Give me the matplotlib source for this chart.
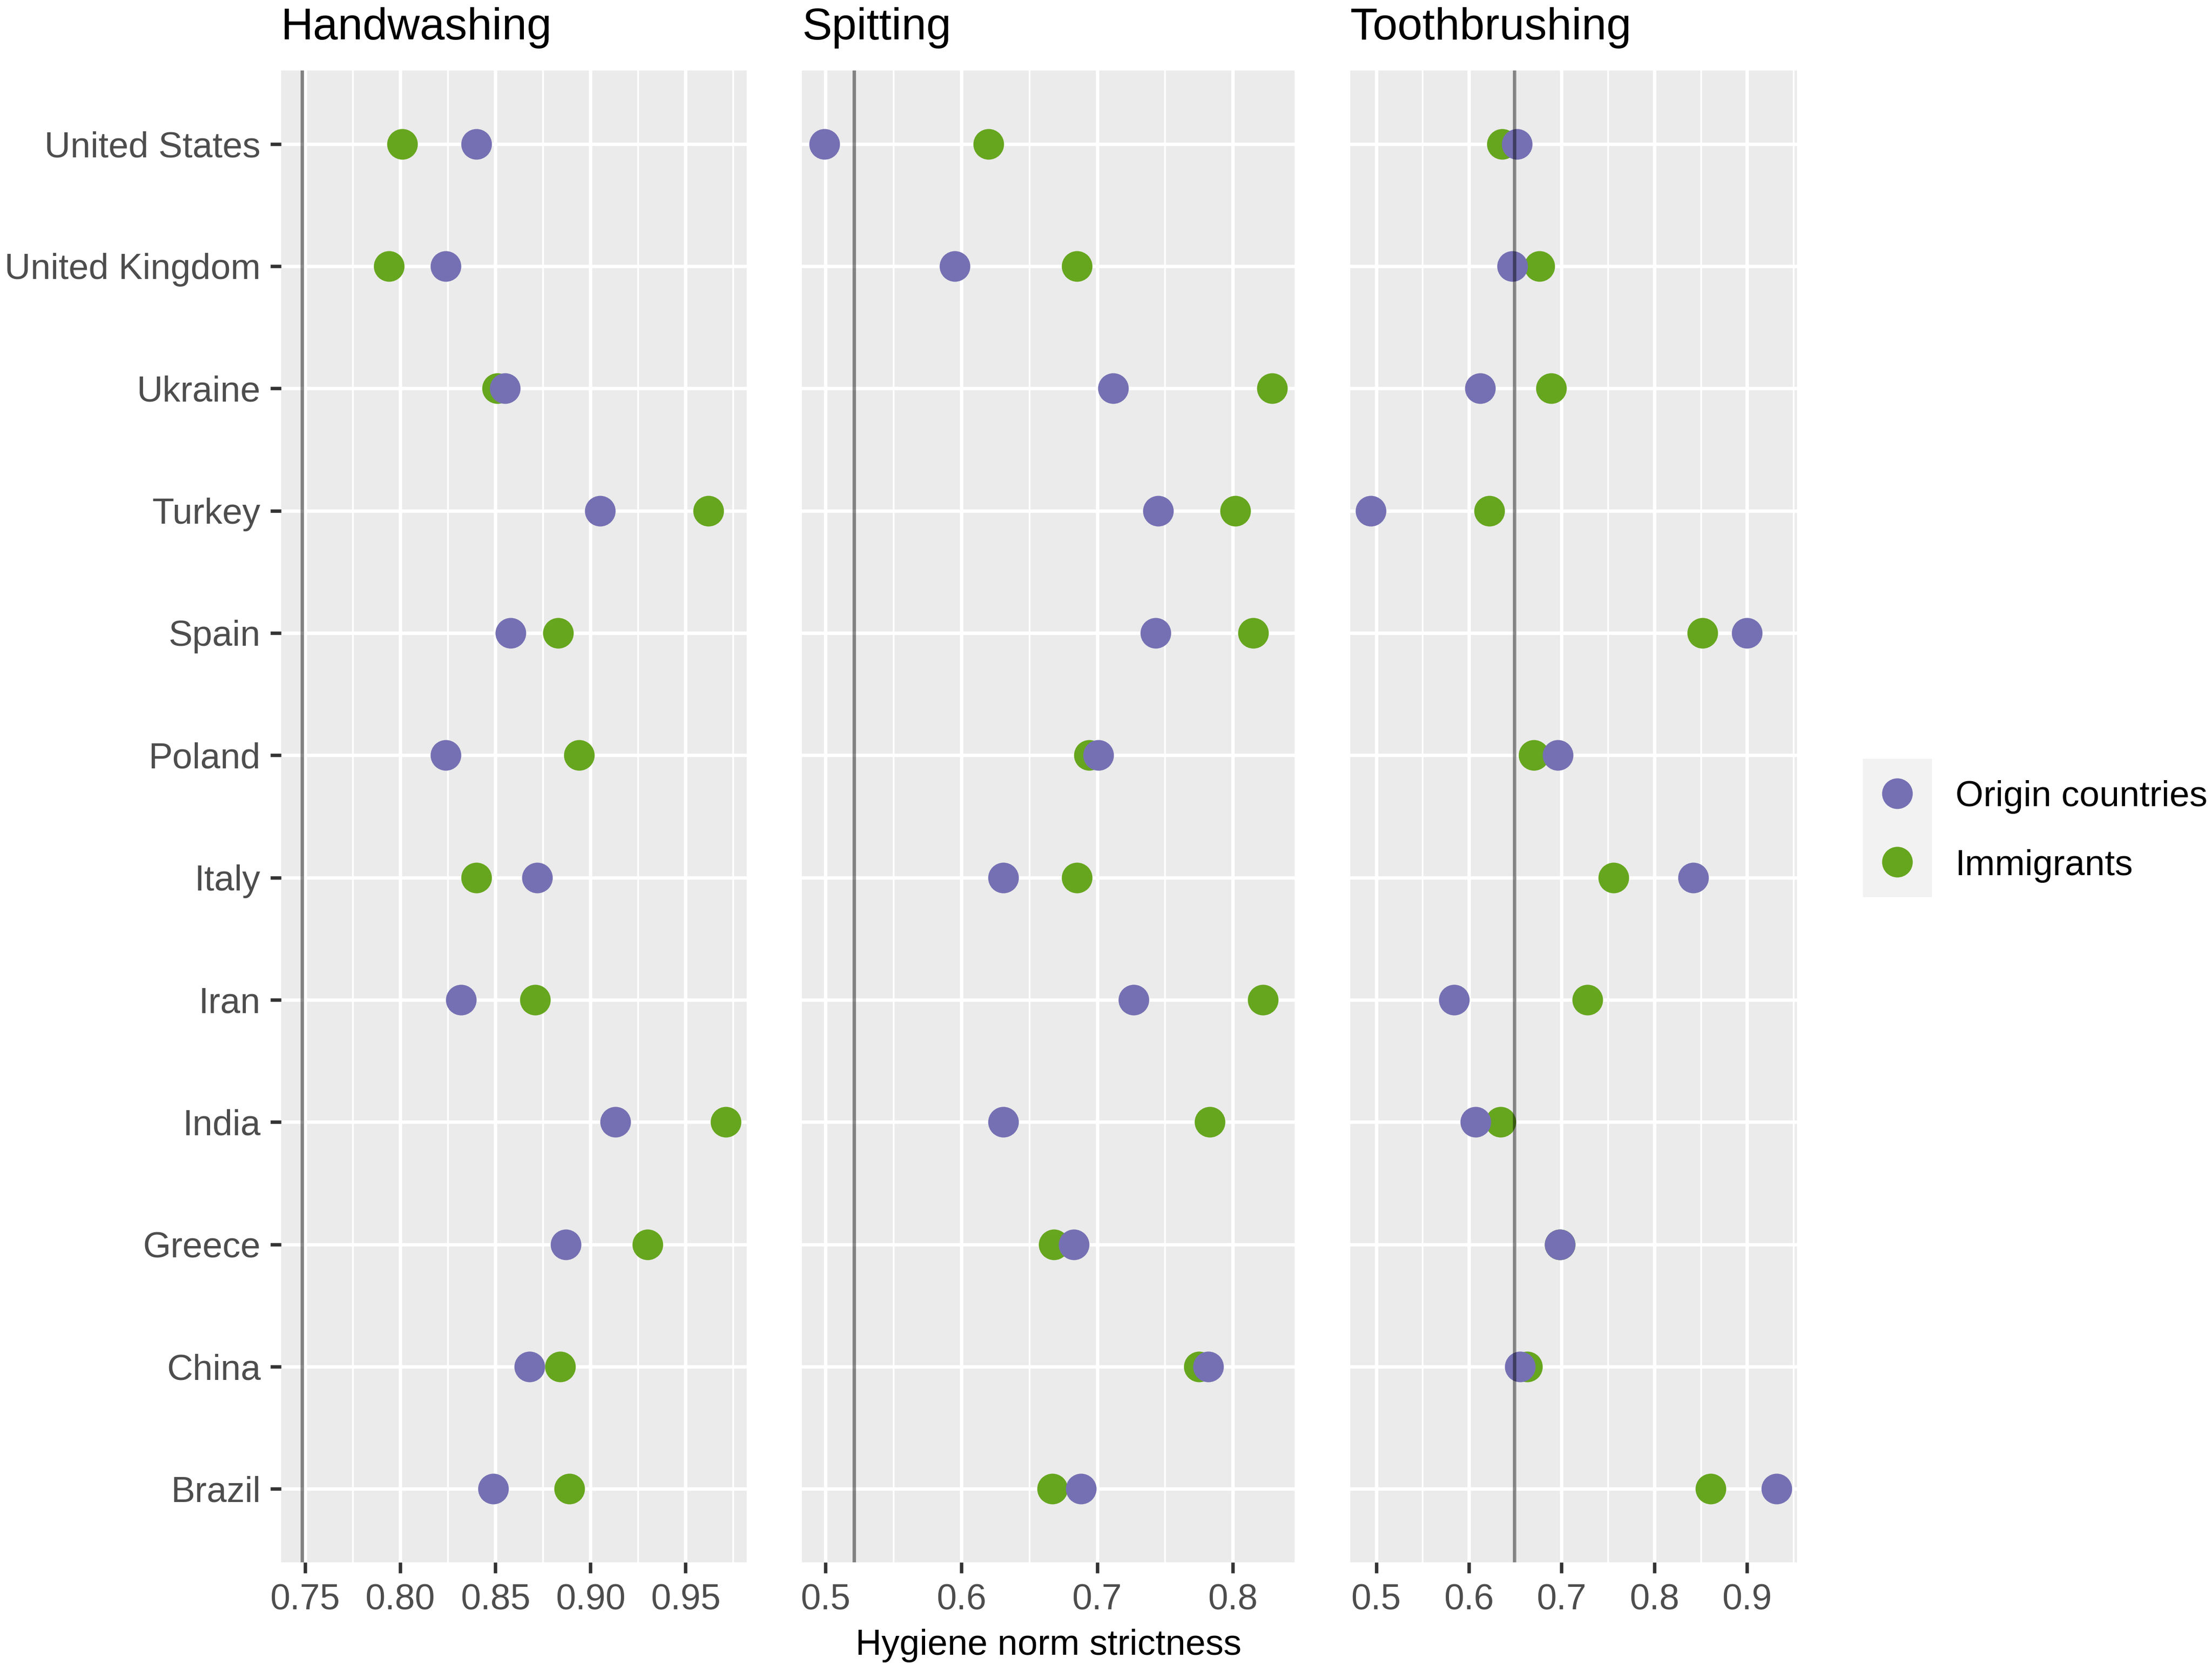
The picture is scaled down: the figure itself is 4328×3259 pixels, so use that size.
import matplotlib
matplotlib.use("Agg")
import matplotlib.pyplot as plt
import numpy as np
from matplotlib.lines import Line2D
from matplotlib.patches import Rectangle

plt.rcParams["font.family"] = ["Liberation Sans", "DejaVu Sans"]

# countries from bottom to top
countries = ["Brazil", "China", "Greece", "India", "Iran", "Italy", "Poland",
             "Spain", "Turkey", "Ukraine", "United Kingdom", "United States"]

hand_origin = [0.849, 0.868, 0.887, 0.913, 0.832, 0.872, 0.824, 0.858, 0.905, 0.855, 0.824, 0.840]
hand_immig = [0.889, 0.884, 0.930, 0.971, 0.871, 0.840, 0.894, 0.883, 0.962, 0.851, 0.794, 0.801]

spit_origin = [0.688, 0.782, 0.683, 0.631, 0.727, 0.631, 0.701, 0.743, 0.745, 0.712, 0.595, 0.499]
spit_immig = [0.667, 0.775, 0.668, 0.783, 0.822, 0.685, 0.694, 0.815, 0.802, 0.829, 0.685, 0.620]

tooth_origin = [0.932, 0.655, 0.698, 0.607, 0.584, 0.842, 0.696, 0.900, 0.494, 0.612, 0.647, 0.652]
tooth_immig = [0.861, 0.663, 0.698, 0.634, 0.728, 0.756, 0.670, 0.852, 0.622, 0.689, 0.676, 0.636]

# reference lines (overall level per behaviour)
ref_lines = {"Handwashing": 0.7485, "Spitting": 0.521, "Toothbrushing": 0.649}

hand_ticks = [0.75, 0.80, 0.85, 0.90, 0.95]
spit_ticks = [0.5, 0.6, 0.7, 0.8]
tooth_ticks = [0.5, 0.6, 0.7, 0.8, 0.9]

PURPLE = "#7570B3"
GREEN = "#66A61E"
TXT = 16.9

W, H = 4328, 3259
fig = plt.figure(figsize=(W / 300, H / 300), dpi=300)


def px_rect(x0, x1, y0, y1):
    return [x0 / W, 1 - y1 / H, (x1 - x0) / W, (y1 - y0) / H]


panels = [
    ("Handwashing", hand_origin, hand_immig, hand_ticks, "{:.2f}", (550, 1461)),
    ("Spitting", spit_origin, spit_immig, spit_ticks, "{:.1f}", (1569, 2533)),
    ("Toothbrushing", tooth_origin, tooth_immig, tooth_ticks, "{:.1f}", (2642, 3516)),
]

ypos = np.arange(1, len(countries) + 1)
axes = []
for i, (name, orig, immig, ticks, fmt, (x0, x1)) in enumerate(panels):
    ax = fig.add_axes(px_rect(x0, x1, 138, 3058))
    axes.append(ax)
    ax.set_facecolor("#EBEBEB")
    for sp in ax.spines.values():
        sp.set_visible(False)

    step = ticks[1] - ticks[0]
    minor = np.arange(ticks[0] - step / 2, ticks[-1] + step, step)
    ax.set_xticks(ticks)
    ax.set_xticklabels([fmt.format(t) for t in ticks])
    ax.set_xticks(minor, minor=True)
    ax.set_yticks(ypos)

    # ggplot-like 5% expansion around data and reference line
    vals = list(orig) + list(immig) + [ref_lines[name]]
    lo, hi = min(vals), max(vals)
    pad = 0.05 * (hi - lo)
    ax.set_xlim(lo - pad, hi + pad)
    ax.set_ylim(0.4, len(countries) + 0.6)

    ax.grid(which="major", color="white", lw=1.6)
    ax.grid(which="minor", axis="x", color="white", lw=0.8)
    ax.set_axisbelow(True)

    ax.tick_params(axis="x", which="major", length=5, width=1.6, color="#333333",
                   pad=5, labelsize=TXT, labelcolor="#4D4D4D")
    ax.tick_params(axis="x", which="minor", length=0)
    if i == 0:
        ax.set_yticklabels(countries)
        ax.tick_params(axis="y", length=5, width=1.6, color="#333333",
                       pad=4.6, labelsize=TXT, labelcolor="#4D4D4D")
    else:
        ax.set_yticklabels([])
        ax.tick_params(axis="y", length=0)

    ax.scatter(immig, ypos, s=14.4 ** 2, color=GREEN, linewidths=0, zorder=3)
    ax.scatter(orig, ypos, s=14.4 ** 2, color=PURPLE, linewidths=0, zorder=4)
    ax.axvline(ref_lines[name], color="black", alpha=0.45, lw=1.6, zorder=5)

    ax.set_title(name, loc="left", pad=14.6, fontsize=21, color="black")

axes[1].set_xlabel("Hygiene norm strictness", fontsize=TXT, labelpad=5.3)

# legend drawn by hand (ggplot style key box)
fig.patches.append(Rectangle((3645 / W, 1 - 1756 / H), 135 / W, 271 / H,
                             transform=fig.transFigure, facecolor="#F2F2F2",
                             edgecolor="none"))
for label, col, yy in [("Origin countries", PURPLE, 1553), ("Immigrants", GREEN, 1687)]:
    fig.add_artist(Line2D([3712 / W], [1 - yy / H], marker="o", ms=14.4,
                          color=col, linestyle="none", markeredgewidth=0,
                          transform=fig.transFigure))
    fig.text(3826 / W, 1 - yy / H, label, va="center_baseline", ha="left",
             fontsize=TXT, color="black")

fig.savefig("out.png", dpi=300, facecolor="white")
